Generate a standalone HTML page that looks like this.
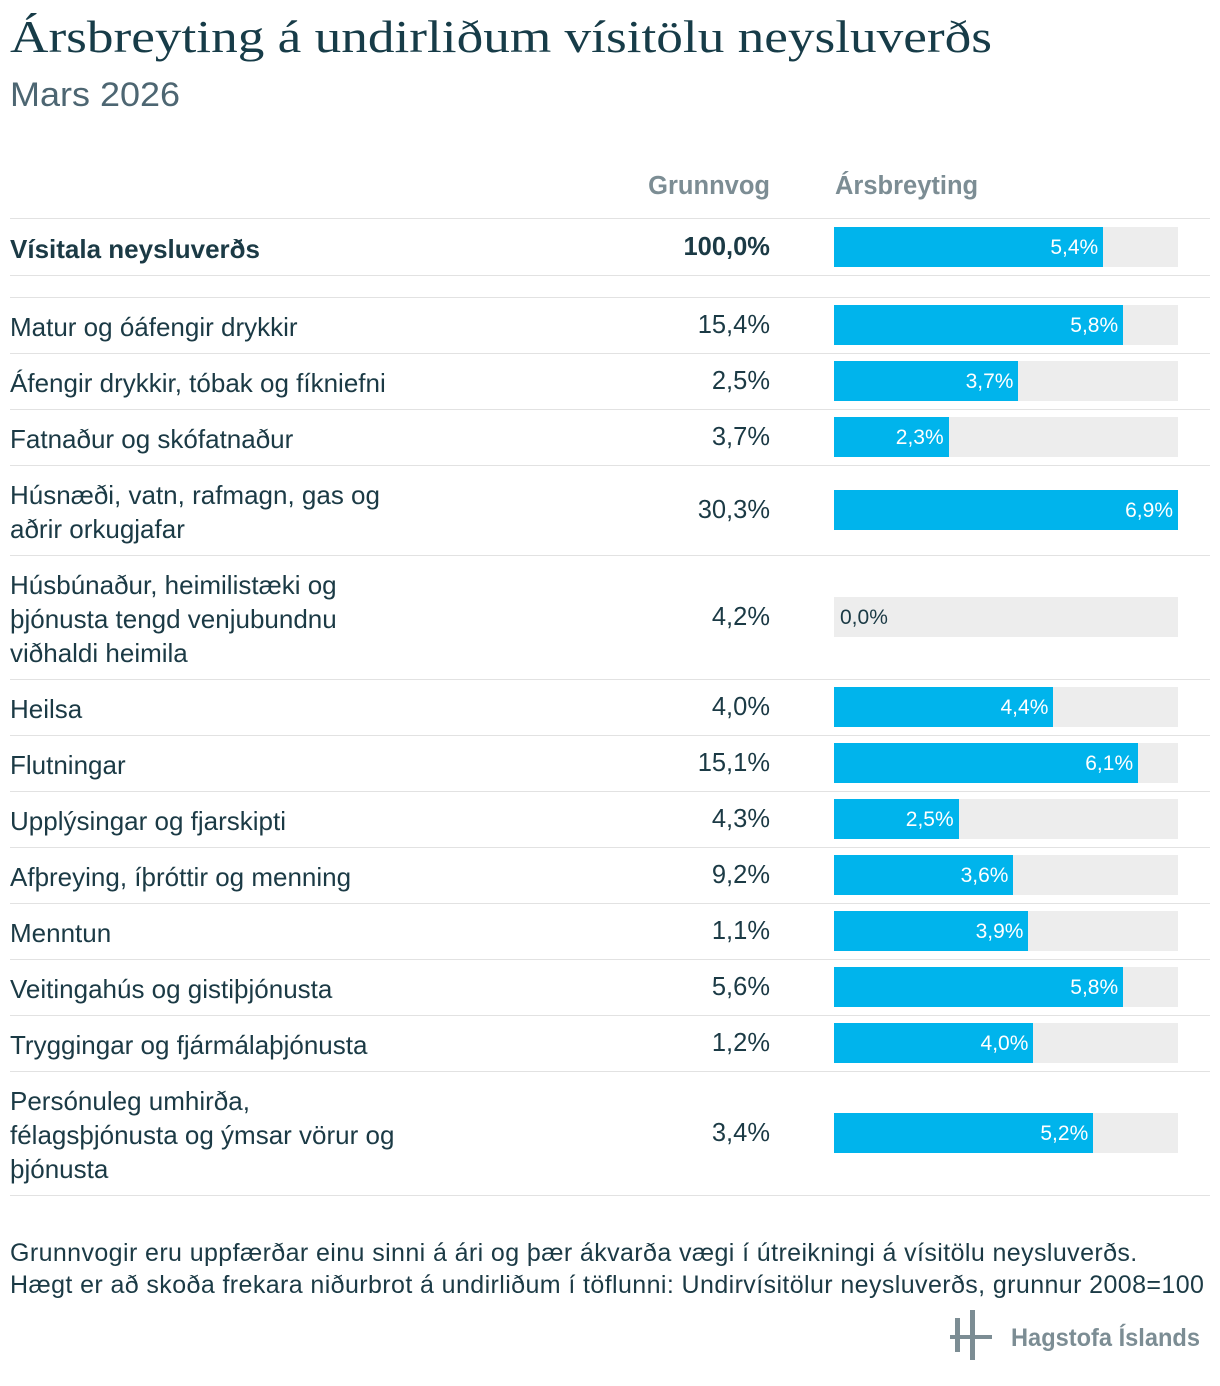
<!DOCTYPE html>
<html><head><meta charset="utf-8">
<style>
body{margin:0;background:#fff;width:1220px;height:1386px;position:relative;overflow:hidden;font-family:"Liberation Sans",sans-serif;color:#1b3a45}
.abs{position:absolute}
.line{position:absolute;left:10px;width:1200px;height:1px;background:#e2e2e2}
.lbl{position:absolute;left:10px;font-size:26px;line-height:34px;color:#1b3a45;white-space:nowrap}
.w{position:absolute;right:450px;font-size:25.5px;color:#1b3a45;text-align:right}
.track{position:absolute;left:834px;width:344px;height:40px;background:#ededed}
.bar{position:absolute;left:0;top:0;height:40px;background:#00b4ec}
.val{position:absolute;top:1px;line-height:40px;font-size:21px;color:#fff}
</style></head><body>
<svg class="abs" style="left:0;top:0" width="1220" height="120">
<text x="10" y="52" font-family="Liberation Serif, serif" font-size="46" fill="#173c48" textLength="982" lengthAdjust="spacingAndGlyphs">Ársbreyting á undirliðum vísitölu neysluverðs</text>
<text x="10" y="106" font-family="Liberation Sans, sans-serif" font-size="34" fill="#4d6672" textLength="170" lengthAdjust="spacingAndGlyphs">Mars 2026</text>
</svg>
<div class="abs" style="right:450px;top:172px;font-size:25.5px;font-weight:bold;color:#7c8d94">Grunnvog</div>
<div class="abs" style="left:835px;top:172px;font-size:25.5px;font-weight:bold;color:#7c8d94">Ársbreyting</div>
<div id="rows"></div>
<div class="abs" style="left:10px;top:1237px;font-size:25px;line-height:32px;color:#1b3a45;white-space:nowrap;letter-spacing:0.4px">Grunnvogir eru uppfærðar einu sinni á ári og þær ákvarða vægi í útreikningi á vísitölu neysluverðs.<br>Hægt er að skoða frekara niðurbrot á undirliðum í töflunni: Undirvísitölur neysluverðs, grunnur 2008=100</div>
<svg class="abs" style="left:950px;top:1308px" width="260" height="56">
<rect x="5" y="10" width="5" height="34" fill="#7c8d94"/>
<rect x="20" y="2" width="5" height="50" fill="#7c8d94"/>
<rect x="0" y="27" width="42" height="4" fill="#7c8d94"/>
<text x="61" y="38" font-family="Liberation Sans, sans-serif" font-size="25" font-weight="bold" fill="#7c8d94" textLength="189" lengthAdjust="spacingAndGlyphs">Hagstofa Íslands</text>
</svg>
<script>
const labels=["Vísitala neysluverðs","Matur og óáfengir drykkir","Áfengir drykkir, tóbak og fíkniefni","Fatnaður og skófatnaður","Húsnæði, vatn, rafmagn, gas og<br>aðrir orkugjafar","Húsbúnaður, heimilistæki og<br>þjónusta tengd venjubundnu<br>viðhaldi heimila","Heilsa","Flutningar","Upplýsingar og fjarskipti","Afþreying, íþróttir og menning","Menntun","Veitingahús og gistiþjónusta","Tryggingar og fjármálaþjónusta","Persónuleg umhirða,<br>félagsþjónusta og ýmsar vörur og<br>þjónusta"];
const weights=["100,0%","15,4%","2,5%","3,7%","30,3%","4,2%","4,0%","15,1%","4,3%","9,2%","1,1%","5,6%","1,2%","3,4%"];
const values=[5.4,5.8,3.7,2.3,6.9,0.0,4.4,6.1,2.5,3.6,3.9,5.8,4.0,5.2];
const maxV=6.9, W=344;
const x=v=>v/maxV*W;
const root=document.getElementById('rows');
function add(cls,style,html){const d=document.createElement('div');d.className=cls;d.style.cssText=style;if(html!==undefined)d.innerHTML=html;root.appendChild(d);return d;}
let l=add('line','top:218px');


let y=218;
labels.forEach((lab,i)=>{
  if(i===1){y+=22;}
  const n=lab.split('<br>').length;
  const h=i===0?57:(n===1?56:n===2?90:124);
  const mid=y+h/2;
  const bold=i===0?'font-weight:bold;':'';
  const t=add('lbl',bold+'top:'+(mid-17*n+2)+'px',lab);
  
  
  const w=add('w',bold+'top:'+(mid-14)+'px',weights[i]);
  
  
  const tr=add('track','top:'+(mid-20)+'px');
  
  
  const b=document.createElement('div');b.className='bar';b.style.width=x(values[i])+'px';tr.appendChild(b);
  
  
  const v=document.createElement('div');v.className='val';
  const txt=values[i].toFixed(1).replace('.',',')+'%';v.textContent=txt;
  if(values[i]>=1){v.style.right=(W-x(values[i])+5)+'px';}else{v.style.left='6px';v.style.color='#1b3a45';}
  tr.appendChild(v);
  
  
  y+=h;
  const ln=add('line','top:'+y+'px');
  
  
  if(i===0){const l2=add('line','top:'+(y+22)+'px');}
});
</script>
</body></html>
